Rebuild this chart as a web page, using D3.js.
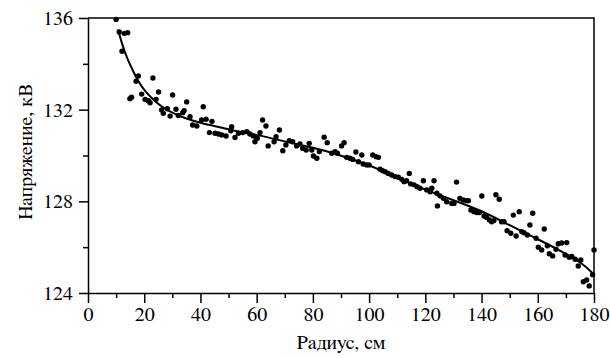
<!DOCTYPE html>
<html>
<head>
<meta charset="utf-8">
<script src="https://cdn.jsdelivr.net/npm/d3@7"></script>
<style>
  body { margin: 0; background: #fff; }
</style>
</head>
<body>
<svg id="chart" width="610" height="358"></svg>
<script>
// measured points: radius (cm) and voltage (kV)
const radius = [
  10.0, 11.1, 12.9, 14.1, 12.1, 17.9, 17.1, 23.1, 25.1, 30.1, 35.1, 15.5, 14.9, 19.1, 20.3, 21.5,
  22.1, 24.2, 26.2, 26.8, 28.2, 29.2, 31.3, 32.1, 33.7, 34.2, 36.3, 37.2, 38.7,
  41.0, 40.4, 42.0, 44.1, 43.2, 45.2, 46.4, 47.6, 49.1, 51.1, 50.8, 52.3, 53.5, 55.0, 56.5, 57.6,
  58.8, 59.4, 60.2, 61.2, 62.1, 63.3, 64.1, 66.2, 68.1, 66.9, 69.3, 70.4, 71.6, 72.8, 74.2, 75.4,
  76.4, 77.6, 78.7, 79.6, 80.2, 81.4, 82.3, 84.0, 85.1,
  86.7, 87.9, 88.7, 90.2, 91.1, 92.0, 93.2, 94.2, 95.3, 96.2, 97.4, 97.9, 99.1, 100.0, 101.3, 102.5,
  103.3, 103.9, 104.8, 105.7, 106.8, 108.0, 109.2, 110.4, 111.6, 112.4, 114.3, 113.3, 114.8, 116.0,
  117.1, 118.1, 119.3, 120.5, 121.7, 123.1, 122.3, 124.1, 125.2, 126.4, 124.3, 127.6,
  129.4, 130.2, 131.1, 132.3, 133.5, 134.7, 135.3, 136.2, 137.3, 138.3, 139.2, 140.1, 140.9, 141.8,
  142.8, 143.6, 144.4, 145.1, 146.3, 147.1, 148.0, 149.1, 150.4, 151.3, 152.3, 153.4, 154.3, 155.1,
  156.3, 157.2, 158.2, 159.4, 160.2, 161.4, 162.3, 163.4, 164.1, 165.3, 166.5, 167.3, 168.5, 170.3,
  169.7, 171.2, 172.1, 173.3, 174.4, 175.3, 176.2, 177.4, 178.3, 180.0, 179.5
]
const voltage = [
  135.94, 135.39, 135.33, 135.36, 134.55, 133.47, 133.24, 133.38, 132.77, 132.64, 132.34, 132.54, 132.48, 132.68, 132.45, 132.39,
  132.30, 132.45, 131.99, 131.84, 132.04, 131.72, 132.02, 131.75, 131.87, 131.96, 131.69, 131.33, 131.29,
  132.13, 131.55, 131.58, 131.49, 131.00, 130.97, 130.94, 130.90, 130.85, 131.26, 131.08, 130.79, 130.97, 131.00, 131.04, 130.94,
  130.85, 130.60, 130.75, 131.00, 131.55, 131.29, 130.42, 130.60, 131.11, 130.82, 130.21, 130.46, 130.65, 130.60, 130.42, 130.50,
  130.31, 130.24, 130.53, 130.24, 129.98, 129.88, 130.17, 130.80, 130.56,
  130.10, 130.17, 130.10, 130.42, 130.56, 129.92, 129.88, 129.83, 130.15, 129.73, 130.02, 129.63, 129.59, 129.59, 130.02, 129.95,
  129.92, 129.40, 129.34, 129.29, 129.22, 129.15, 129.08, 129.05, 128.96, 128.86, 129.22, 128.90, 128.76, 128.72,
  128.64, 128.57, 128.90, 128.50, 128.42, 128.90, 128.57, 128.35, 128.24, 128.13, 127.80, 127.98,
  127.91, 127.91, 128.84, 128.13, 128.06, 128.03, 128.03, 127.62, 127.55, 127.51, 127.51, 128.23, 127.36, 127.30,
  127.19, 127.11, 127.16, 128.29, 128.09, 127.11, 127.11, 126.72, 126.61, 127.40, 126.49, 127.55, 126.68, 126.63,
  126.53, 126.97, 127.48, 126.39, 126.00, 125.88, 126.79, 126.06, 125.71, 125.62, 125.91, 126.15, 126.18, 126.20,
  125.66, 125.56, 125.59, 125.47, 125.18, 125.44, 124.49, 124.57, 124.31, 125.88, 124.80
]

// fitted curve
const fitRadius = [10.7, 12, 14, 16, 18, 20, 23, 26, 30, 35, 40, 47, 55, 63.6, 70, 80, 88, 100, 104, 113, 120, 130, 140, 150, 160, 168, 176, 180]
const fitVoltage = [135.5, 134.9, 134.2, 133.7, 133.2, 132.85, 132.45, 132.15, 131.85, 131.6, 131.42, 131.23, 131.0, 130.82, 130.6, 130.35, 130.08, 129.58, 129.37, 128.87, 128.5, 128.05, 127.6, 126.95, 126.35, 125.85, 125.3, 124.8]

const xTicks = [0, 20, 40, 60, 80, 100, 120, 140, 160, 180]
const xMinor = [10, 30, 50, 70, 90, 110, 130, 150, 170]
const yTicks = [124, 128, 132, 136]
const yMinor = [126, 130, 134]

const FONT = '"FreeSerif", "Liberation Serif"'

const margin = { top: 18, right: 16, bottom: 65, left: 88 }
const width = 610 - margin.left - margin.right
const height = 358 - margin.top - margin.bottom

const svg = d3.select('#chart')

// axis titles first
svg.append('text')
  .style('font-family', FONT)
  .attr('font-size', 20)
  .attr('x', margin.left + width / 2)
  .attr('y', 349)
  .attr('text-anchor', 'middle')
  .text('Радиус, см')

svg.append('text')
  .style('font-family', FONT)
  .attr('font-size', 20)
  .attr('transform', 'translate(32,152) rotate(-90)')
  .attr('text-anchor', 'middle')
  .text('Напряжение, кВ')

const g = svg.append('g').attr('transform', `translate(${margin.left},${margin.top})`)

const x = d3.scaleLinear().domain([0, 180]).range([0, width])
const y = d3.scaleLinear().domain([124, 136]).range([height, 0])

// frame (top and right)
g.append('path')
  .attr('d', `M0,0H${width}V${height}`)
  .attr('fill', 'none')
  .attr('stroke', '#000')
  .attr('stroke-width', 1.5)

// x axis
const xAxis = g.append('g').attr('transform', `translate(0,${height})`)
  .call(d3.axisBottom(x).tickValues(xTicks).tickSize(10).tickSizeOuter(0).tickPadding(4))
xAxis.append('g')
  .call(d3.axisBottom(x).tickValues(xMinor).tickSize(5).tickFormat(''))
  .select('.domain').remove()

// y axis
const yAxis = g.append('g')
  .call(d3.axisLeft(y).tickValues(yTicks).tickSize(9).tickSizeOuter(0).tickPadding(6))
yAxis.append('g')
  .call(d3.axisLeft(y).tickValues(yMinor).tickSize(5).tickFormat(''))
  .select('.domain').remove()

svg.selectAll('.domain, .tick line').attr('stroke', '#000').attr('stroke-width', 1.5)
svg.selectAll('.tick text')
  .style('font-family', FONT)
  .attr('font-size', 20)
  .attr('fill', '#000')

// points
g.selectAll('circle.pt')
  .data(radius.map((r, i) => [r, voltage[i]]))
  .enter()
  .append('circle')
  .attr('class', 'pt')
  .attr('cx', d => x(d[0]))
  .attr('cy', d => y(d[1]))
  .attr('r', 2.7)
  .attr('fill', '#000')

// fit line
const line = d3.line()
  .x(d => x(d[0]))
  .y(d => y(d[1]))
  .curve(d3.curveBasis)
g.append('path')
  .datum(fitRadius.map((r, i) => [r, fitVoltage[i]]))
  .attr('d', line)
  .attr('fill', 'none')
  .attr('stroke', '#000')
  .attr('stroke-width', 2)
</script>
</body>
</html>
